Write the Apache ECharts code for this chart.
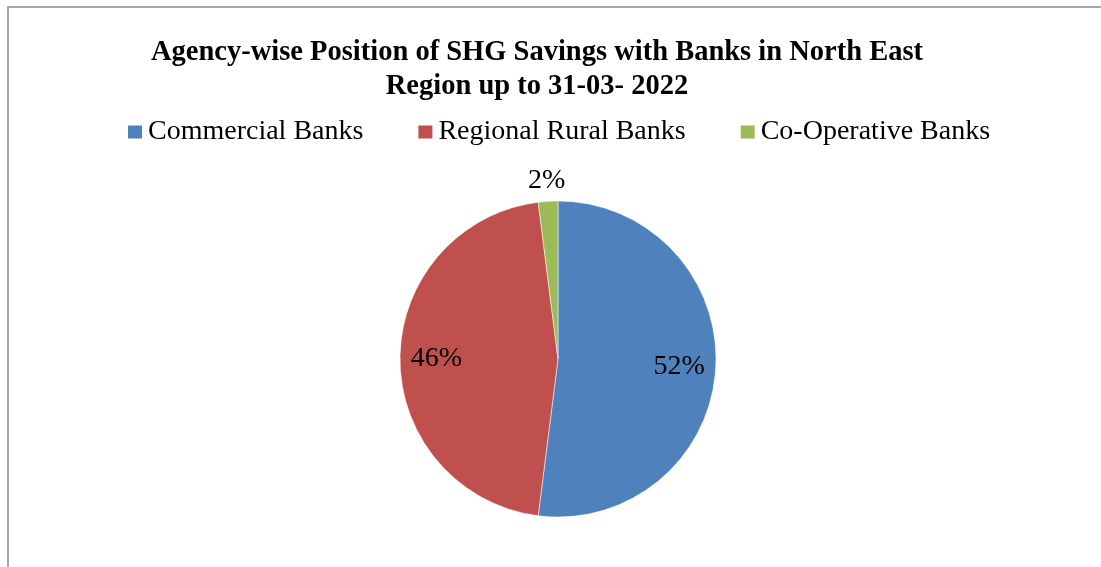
<!DOCTYPE html>
<html>
<head>
<meta charset="utf-8">
<script src="https://cdn.jsdelivr.net/npm/echarts@6/dist/echarts.min.js"></script>
<style>
  html, body { margin: 0; padding: 0; background: #fff; }
  #chart { width: 1101px; height: 567px; }
</style>
</head>
<body>
<div id="chart"></div>
<script>
// data
var agencies = ['Commercial Banks', 'Regional Rural Banks', 'Co-Operative Banks']
var shares = [52, 46, 2]
var colors = ['#4F81BD', '#C0504D', '#9BBB59']

var serif = '"Liberation Serif", "Times New Roman", serif'

var pieData = agencies.map(function (name, i) {
  return { name: name, value: shares[i], itemStyle: { color: colors[i] } }
})

// transparent rings carry the value labels: big slices inside, small one just outside
function labelRing (radius, showIf) {
  return {
    type: 'pie',
    center: [558, 359],
    radius: radius,
    startAngle: 90,
    clockwise: true,
    silent: true,
    data: agencies.map(function (name, i) {
      return { name: name, value: shares[i], label: { show: showIf(shares[i]) } }
    }),
    itemStyle: { color: 'rgba(0,0,0,0)' },
    label: {
      position: 'inside',
      formatter: '{c}%',
      fontFamily: serif,
      fontSize: 28,
      color: '#000'
    },
    labelLine: { show: false },
    emphasis: { disabled: true }
  }
}

var chart = echarts.init(document.getElementById('chart'))
chart.setOption({
  animation: false,
  backgroundColor: '#fff',
  title: {
    text: 'Agency-wise Position of SHG Savings with Banks in North East\nRegion up to 31-03- 2022',
    left: 532,
    top: 31,
    textAlign: 'center',
    textStyle: {
      fontFamily: serif,
      fontWeight: 'bold',
      fontSize: 28.5,
      lineHeight: 34,
      color: '#000'
    }
  },
  legend: {
    data: agencies,
    left: 121,
    top: 113,
    icon: 'rect',
    itemWidth: 16,
    itemHeight: 15,
    itemGap: 53,
    selectedMode: false,
    textStyle: { fontFamily: serif, fontSize: 28, color: '#000' }
  },
  graphic: [{
    type: 'rect',
    silent: true,
    shape: { x: 8, y: 7, width: 1300, height: 800 },
    style: { fill: 'none', stroke: '#a6a6a6', lineWidth: 2 }
  }],
  series: [
    {
      type: 'pie',
      center: [558, 359],
      radius: [0, 158],
      startAngle: 90,
      clockwise: true,
      data: pieData,
      itemStyle: { borderColor: '#fff', borderWidth: 0.5 },
      label: { show: false },
      labelLine: { show: false },
      emphasis: { disabled: true }
    },
    labelRing([79, 158], function (v) { return v > 5 }),
    labelRing([158, 194], function (v) { return v <= 5 })
  ]
})
</script>
</body>
</html>
